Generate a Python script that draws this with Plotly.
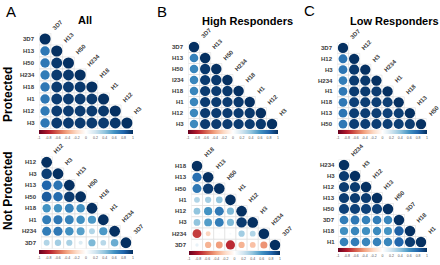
import plotly.graph_objects as go

W, H = 440, 265

# ---------------- data ----------------
# Panel A (All) - Protected
labels_a_prot = ["3D7", "H13", "H50", "H234", "H18", "H1", "H12", "H3"]
corr_a_prot = [
    [1.0],
    [0.72, 1.0],
    [0.72, 0.97, 1.0],
    [0.70, 0.96, 0.97, 1.0],
    [0.72, 0.96, 0.96, 0.97, 1.0],
    [0.72, 0.96, 0.96, 0.96, 0.97, 1.0],
    [0.71, 0.96, 0.96, 0.96, 0.96, 0.97, 1.0],
    [0.72, 0.96, 0.96, 0.96, 0.96, 0.96, 0.97, 1.0],
]
# Panel B (High Responders) - Protected
row_labels_b_prot = ["3D7", "H13", "H50", "I234", "H18", "H1", "H12", "H3"]
col_labels_b_prot = ["3D7", "H13", "H50", "H234", "H18", "H1", "H12", "H3"]
corr_b_prot = [
    [1.0],
    [0.68, 1.0],
    [0.66, 0.97, 1.0],
    [0.66, 0.96, 0.97, 1.0],
    [0.66, 0.96, 0.96, 0.97, 1.0],
    [0.66, 0.96, 0.96, 0.96, 0.97, 1.0],
    [0.65, 0.96, 0.96, 0.96, 0.96, 0.97, 1.0],
    [0.64, 0.96, 0.96, 0.96, 0.96, 0.96, 0.97, 1.0],
]
# Panel C (Low Responders) - Protected
labels_c_prot = ["3D7", "H12", "H3", "H234", "H1", "H18", "H13", "H50"]
corr_c_prot = [
    [1.0],
    [0.74, 1.0],
    [0.73, 0.97, 1.0],
    [0.70, 0.96, 0.97, 1.0],
    [0.72, 0.96, 0.96, 0.96, 1.0],
    [0.72, 0.94, 0.95, 0.95, 0.95, 1.0],
    [0.73, 0.95, 0.95, 0.95, 0.94, 0.95, 1.0],
    [0.72, 0.95, 0.95, 0.95, 0.95, 0.95, 0.96, 1.0],
]
# Panel A (All) - Not Protected
labels_a_np = ["H12", "H3", "H13", "H50", "H18", "H1", "H234", "3D7"]
corr_a_np = [
    [1.0],
    [0.95, 1.0],
    [0.80, 0.74, 1.0],
    [0.84, 0.78, 0.96, 1.0],
    [0.60, 0.60, 0.68, 0.62, 1.0],
    [0.70, 0.72, 0.68, 0.62, 0.58, 1.0],
    [0.70, 0.72, 0.62, 0.55, 0.30, 0.58, 1.0],
    [0.30, 0.35, 0.33, 0.15, 0.45, 0.28, 0.50, 1.0],
]
# Panel B (High Responders) - Not Protected
labels_b_np = ["H18", "H13", "H50", "H1", "H12", "H3", "H234", "3D7"]
corr_b_np = [
    [1.0],
    [0.76, 1.0],
    [0.72, 0.96, 1.0],
    [0.30, 0.35, 0.40, 1.0],
    [0.40, 0.60, 0.72, 0.45, 1.0],
    [0.40, 0.56, 0.70, 0.45, 0.96, 1.0],
    [-0.70, -0.22, 0.02, 0.04, 0.35, 0.30, 1.0],
    [0.10, -0.35, -0.42, -0.75, -0.35, -0.30, -0.45, 1.0],
]
# Panel C (Low Responders) - Not Protected
labels_c_np = ["H234", "H3", "H12", "H13", "H50", "3D7", "H18", "H1"]
corr_c_np = [
    [1.0],
    [0.96, 1.0],
    [0.96, 0.96, 1.0],
    [0.96, 0.96, 0.96, 1.0],
    [0.94, 0.94, 0.94, 0.94, 1.0],
    [0.70, 0.72, 0.68, 0.70, 0.66, 1.0],
    [0.62, 0.66, 0.62, 0.64, 0.60, 0.82, 1.0],
    [0.68, 0.70, 0.66, 0.68, 0.66, 0.80, 0.96, 1.0],
]

cbar_tickvals = [-1, -0.8, -0.6, -0.4, -0.2, 0, 0.2, 0.4, 0.6, 0.8, 1]
cbar_ticktext = ["-1", "-0.8", "-0.6", "-0.4", "-0.2", "0", "0.2", "0.4", "0.6", "0.8", "1"]

corrplot_colors = ["#67001F", "#B2182B", "#D6604D", "#F4A582", "#FDDBC7", "#FFFFFF",
                   "#D1E5F0", "#92C5DE", "#4393C3", "#2166AC", "#053061"]
colorscale = [[i / 10, c] for i, c in enumerate(corrplot_colors)]

# ---------------- layout geometry (pixels) ----------------
# (row_labels, col_labels, corr, grid box x0,x1,y0,y1, colorbar x0,x1,ytop)
panels = [
    (labels_a_prot, labels_a_prot, corr_a_prot, (39.2, 132.8, 33.0, 129.0), (39, 133, 129.5)),
    (row_labels_b_prot, col_labels_b_prot, corr_b_prot, (188.4, 277.6, 41.5, 129.5), (188, 278, 130.0)),
    (labels_c_prot, labels_c_prot, corr_c_prot, (337.4, 426.6, 42.5, 129.5), (338, 427, 130.0)),
    (labels_a_np, labels_a_np, corr_a_np, (41.0, 131.6, 156.5, 248.5), (39, 133, 249.5)),
    (labels_b_np, labels_b_np, corr_b_np, (191.4, 280.6, 160.4, 250.6), (189, 280, 251.0)),
    (labels_c_np, labels_c_np, corr_c_np, (338.5, 426.5, 159.5, 247.5), (338, 427, 248.0)),
]

LABEL_FONT = "Liberation Sans"
label_color = "#3a3a3a"


def paper(px, py):
    return px / W, 1 - py / H


fig = go.Figure()
layout = dict(
    width=W, height=H, margin=dict(l=0, r=0, t=0, b=0, autoexpand=False),
    paper_bgcolor="white", plot_bgcolor="white", showlegend=False,
)
annotations = []
shapes = []

for k, (rlab, clab, corr, box, cb) in enumerate(panels):
    n = len(rlab)
    sfx = "" if k == 0 else str(k + 1)
    xa, ya = "x" + sfx, "y" + sfx
    x0, x1, y0, y1 = box
    cw = (x1 - x0) / n
    ch = (y1 - y0) / n
    cell = min(cw, ch)
    layout["xaxis" + sfx] = dict(domain=[x0 / W, x1 / W], range=[-0.5, n - 0.5],
                                 visible=False, fixedrange=True, anchor=ya)
    layout["yaxis" + sfx] = dict(domain=[1 - y1 / H, 1 - y0 / H], range=[n - 0.5, -0.5],
                                 visible=False, fixedrange=True, anchor=xa)
    ca = "coloraxis" + sfx
    cbx0, cbx1, cbtop = cb
    layout[ca] = dict(
        cmin=-1, cmax=1, colorscale=colorscale,
        colorbar=dict(orientation="h", lenmode="pixels", len=cbx1 - cbx0,
                      x=(cbx0 + cbx1) / 2 / W, xanchor="center",
                      y=1 - cbtop / H, yanchor="top",
                      thicknessmode="pixels", thickness=4, outlinewidth=0,
                      xpad=0, ypad=0, tickvals=cbar_tickvals, ticktext=cbar_ticktext,
                      ticks="", tickfont=dict(size=3.5, color="#555", family=LABEL_FONT)),
    )
    xs, ys, vals, sizes = [], [], [], []
    for i, row in enumerate(corr):
        for j, v in enumerate(row):
            xs.append(j)
            ys.append(i)
            vals.append(v)
            sizes.append(0.95 * cell * abs(v) ** 0.5)
            shapes.append(dict(type="rect", xref=xa, yref=ya, x0=j - 0.5, x1=j + 0.5,
                               y0=i - 0.5, y1=i + 0.5, line=dict(color="#dcdcdc", width=0.6),
                               fillcolor="white", layer="below"))
    fig.add_trace(go.Scatter(
        x=xs, y=ys, xaxis=xa, yaxis=ya, mode="markers", hoverinfo="skip",
        marker=dict(size=sizes, color=vals, coloraxis=ca, line=dict(width=0), opacity=1),
    ))
    for i, lab in enumerate(rlab):
        px = x0 - 2.0
        py = y0 + (i + 0.5) * ch
        xx, yy = paper(px, py)
        annotations.append(dict(xref="paper", yref="paper", x=xx, y=yy, text=lab, showarrow=False,
                                xanchor="right", yanchor="middle",
                                font=dict(size=6, color=label_color, family=LABEL_FONT, weight="bold")))
    for j, lab in enumerate(clab):
        px = x0 + (j + 0.5) * cw + 0.3 * cw
        py = y0 + (j + 0.5) * ch - 0.4 * ch
        xx, yy = paper(px, py)
        annotations.append(dict(xref="paper", yref="paper", x=xx, y=yy, text=lab, showarrow=False,
                                xanchor="left", yanchor="bottom", textangle=-45,
                                font=dict(size=6, color=label_color, family=LABEL_FONT, weight="bold")))

# panel letters, titles, row-group labels
for txt, (px, py), size in [("A", (11, 12), 15), ("B", (162, 12), 15), ("C", (309, 11), 15)]:
    xx, yy = paper(px, py)
    annotations.append(dict(xref="paper", yref="paper", x=xx, y=yy, text=txt, showarrow=False,
                            xanchor="center", yanchor="middle",
                            font=dict(size=size, color="black", family=LABEL_FONT)))
for txt, (px, py) in [("All", (85, 20)), ("High Responders", (248, 21)), ("Low Responders", (394, 21))]:
    xx, yy = paper(px, py)
    annotations.append(dict(xref="paper", yref="paper", x=xx, y=yy, text=txt, showarrow=False,
                            xanchor="center", yanchor="middle",
                            font=dict(size=11, color="black", family=LABEL_FONT, weight="bold")))
for txt, (px, py) in [("Protected", (8, 95)), ("Not Protected", (8, 191))]:
    xx, yy = paper(px, py)
    annotations.append(dict(xref="paper", yref="paper", x=xx, y=yy, text=txt, showarrow=False,
                            xanchor="center", yanchor="middle", textangle=-90,
                            font=dict(size=12, color="black", family=LABEL_FONT, weight="bold")))

layout["annotations"] = annotations
layout["shapes"] = shapes
fig.update_layout(**layout)
fig.write_html("out.html", config={"displayModeBar": False, "staticPlot": True},
               post_script="document.body.style.margin='0px';document.body.style.overflow='hidden';")
